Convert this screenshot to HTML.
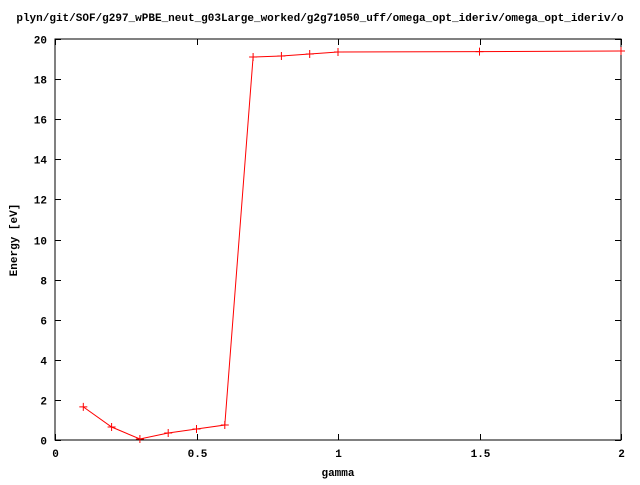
<!DOCTYPE html>
<html><head><meta charset="utf-8"><style>
body{margin:0;background:#fff}
svg text{font-family:"Liberation Mono",monospace;font-size:11px;font-weight:bold;fill:#000}
</style></head><body>
<svg id="chart" width="640" height="480" xmlns="http://www.w3.org/2000/svg">
<text x="320" y="21" text-anchor="middle">plyn/git/SOF/g297_wPBE_neut_g03Large_worked/g2g71050_uff/omega_opt_ideriv/omega_opt_ideriv/o</text>
<rect x="55" y="39" width="566" height="401" fill="none" stroke="#000" stroke-width="1"/>
<g id="axes"></g>
<text x="17" y="240" text-anchor="middle" transform="rotate(-90 17 240)">Energy [eV]</text>
<text x="338" y="476" text-anchor="middle">gamma</text>
<g id="series"></g>
</svg>
<script>
const xTicks=[0,0.5,1,1.5,2];
const xTickLabels=["0","0.5","1","1.5","2"];
const yTicks=[0,2,4,6,8,10,12,14,16,18,20];
const gammaValues=[0.1,0.2,0.3,0.4,0.5,0.6,0.7,0.8,0.9,1.0,1.5,2.0];
const energyValues=[1.65,0.65,0.05,0.35,0.55,0.75,19.1,19.15,19.25,19.35,19.37,19.4];
const NS="http://www.w3.org/2000/svg";
const X0=55,X1=621,Y0=440,Y1=39;
const xs=v=>X0+(v-0)/(2-0)*(X1-X0);
const ys=v=>Y0-(v-0)/(20-0)*(Y0-Y1);
function mk(tag,a,p){const e=document.createElementNS(NS,tag);for(const k in a)e.setAttribute(k,a[k]);p.appendChild(e);return e;}
const axes=document.getElementById('axes');
xTicks.forEach((t,i)=>{
 const x=Math.round(xs(t))+0.5;
 const l1=mk('line',{x1:x,x2:x,y1:Y0,y2:Y0-6,stroke:'#000'},axes);
 
 
 const l2=mk('line',{x1:x,x2:x,y1:Y1,y2:Y1+6,stroke:'#000'},axes);
 
 
 const tx=mk('text',{x:x,y:457,'text-anchor':'middle'},axes);tx.textContent=xTickLabels[i];
 
 
});
yTicks.forEach(t=>{
 const y=Math.round(ys(t))+0.5;
 const l1=mk('line',{x1:X0,x2:X0+6,y1:y,y2:y,stroke:'#000'},axes);
 
 
 const l2=mk('line',{x1:X1,x2:X1-6,y1:y,y2:y,stroke:'#000'},axes);
 
 
 const tx=mk('text',{x:47,y:y+4,'text-anchor':'end'},axes);tx.textContent=String(t);
 
 
});
const s=document.getElementById('series');
const pts=gammaValues.map((g,i)=>xs(g).toFixed(1)+','+ys(energyValues[i]).toFixed(1)).join(' ');
const pl=mk('polyline',{points:pts,fill:'none',stroke:'#f00','stroke-width':1},s);


gammaValues.forEach((g,i)=>{
 const x=xs(g),y=ys(energyValues[i]);
 const p=mk('path',{d:`M${x-4},${y}H${x+4}M${x},${y-4}V${y+4}`,stroke:'#f00','stroke-width':1},s);
 
 
});
</script>
</body></html>
